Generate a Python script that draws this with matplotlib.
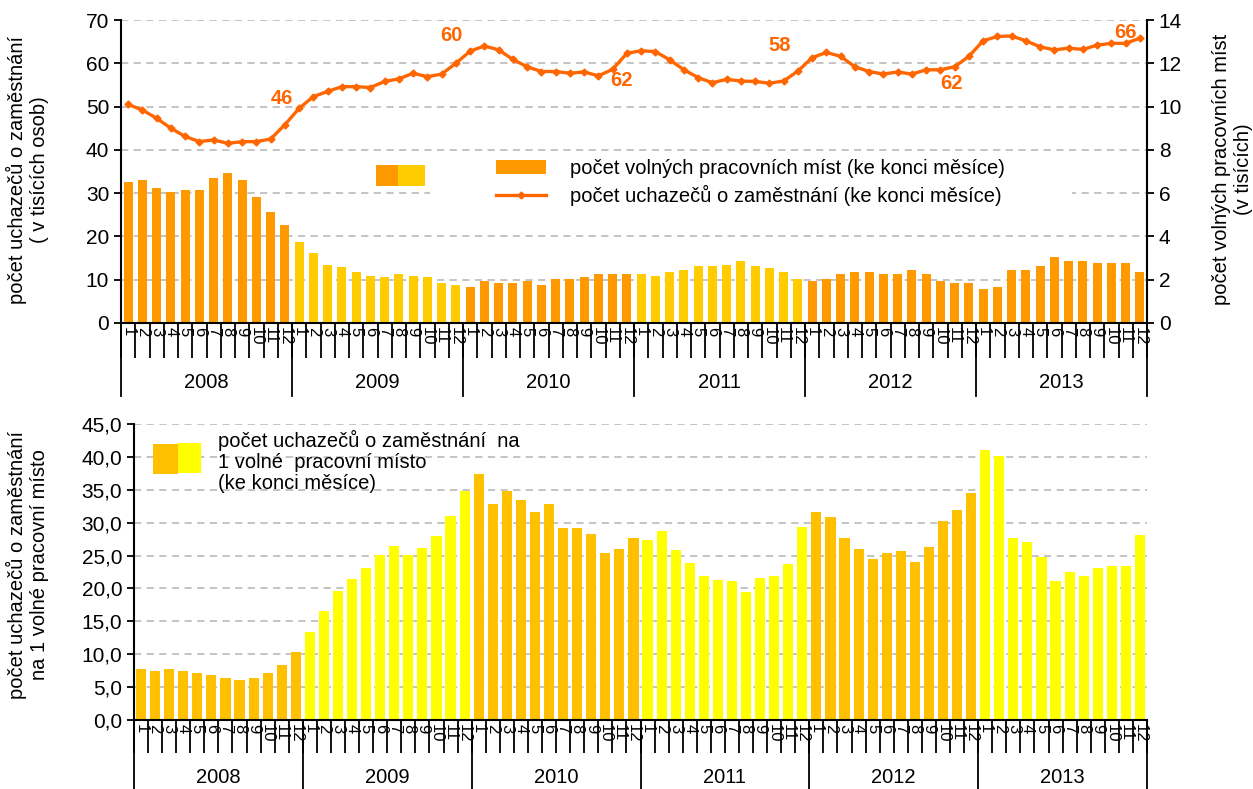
import matplotlib
matplotlib.use("Agg")
import matplotlib.pyplot as plt
from matplotlib.patches import Patch, Rectangle
from matplotlib.lines import Line2D
import matplotlib.transforms as mtransforms
from matplotlib.ticker import FuncFormatter

plt.rcParams['font.family'] = ['Liberation Sans', 'DejaVu Sans']

# ==== data ====
years = ["2008", "2009", "2010", "2011", "2012", "2013"]
months = [str(m) for m in range(1, 13)]

# počet uchazečů o zaměstnání (tis. osob), ke konci měsíce
uchazeci = [
    50.5, 49.2, 47.3, 45.0, 43.1, 41.9, 42.3, 41.5, 41.9, 41.9, 42.5, 45.8,
    49.6, 52.3, 53.5, 54.6, 54.6, 54.4, 55.8, 56.4, 57.7, 56.9, 57.5, 60.0,
    62.8, 64.0, 63.1, 60.9, 59.2, 58.1, 58.1, 57.7, 58.0, 57.1, 58.6, 62.3,
    62.9, 62.7, 60.8, 58.5, 56.7, 55.5, 56.3, 55.9, 55.8, 55.4, 55.9, 58.2,
    61.3, 62.5, 61.6, 59.2, 58.1, 57.5, 58.0, 57.5, 58.5, 58.5, 59.2, 61.6,
    65.2, 66.2, 66.3, 65.2, 63.8, 63.1, 63.5, 63.2, 64.2, 64.6, 64.6, 65.8,
]

# počet volných pracovních míst (tis.), ke konci měsíce
volna_mista = [
    6.51, 6.60, 6.25, 6.06, 6.15, 6.15, 6.68, 6.94, 6.60, 5.82, 5.14, 4.52,
    3.75, 3.25, 2.69, 2.57, 2.37, 2.18, 2.11, 2.28, 2.18, 2.11, 1.86, 1.77,
    1.68, 1.92, 1.83, 1.83, 1.92, 1.74, 2.02, 2.02, 2.11, 2.28, 2.28, 2.28,
    2.28, 2.18, 2.37, 2.46, 2.65, 2.65, 2.69, 2.88, 2.65, 2.55, 2.37, 2.02,
    1.92, 2.02, 2.28, 2.37, 2.37, 2.28, 2.28, 2.46, 2.28, 1.92, 1.83, 1.83,
    1.58, 1.68, 2.46, 2.46, 2.63, 3.06, 2.88, 2.88, 2.78, 2.78, 2.78, 2.37,
]

# počet uchazečů na 1 volné pracovní místo
na_misto = [
    7.75, 7.45, 7.75, 7.45, 7.15, 6.84, 6.39, 6.08, 6.39, 7.15, 8.36, 10.34,
    13.38, 16.52, 19.61, 21.39, 23.11, 25.04, 26.46, 25.04, 26.20, 27.93, 31.02, 34.77,
    37.4, 32.8, 34.8, 33.5, 31.6, 32.8, 29.2, 29.2, 28.3, 25.4, 26.0, 27.7,
    27.4, 28.7, 25.9, 23.9, 21.9, 21.3, 21.1, 19.4, 21.6, 21.9, 23.7, 29.3,
    31.6, 30.9, 27.7, 26.0, 24.5, 25.4, 25.7, 24.0, 26.3, 30.3, 31.9, 34.5,
    41.1, 40.2, 27.7, 27.1, 24.8, 21.1, 22.5, 21.9, 23.1, 23.4, 23.4, 28.2,
]

# popisky prosincových hodnot (horní graf)
dec_labels = ["46", "60", "62", "58", "62", "66"]
dec_offsets = [(-3, 26), (-4, 28), (-5, -27), (-18, 26), (-17, -27), (-14, 6)]

# ==== barvy ====
ORANGE = "#FF9900"
YELLOW_TOP = "#FFCC00"
GOLD = "#FFC000"
YELLOW = "#FFFF00"
LINE = "#FF6600"

n = len(uchazeci)
x = list(range(n))
top_colors = [YELLOW_TOP if (i // 12) in (1, 3) else ORANGE for i in range(n)]
bot_colors = [GOLD if (i // 12) % 2 == 0 else YELLOW for i in range(n)]

W, H = 1253, 789
fig = plt.figure(figsize=(W / 100, H / 100), dpi=100)


def rect(l, t, r, b):
    return [l / W, 1 - b / H, (r - l) / W, (b - t) / H]


def category_axis(ax, sep_len, year_sep, year_y):
    ax.set_xlim(-0.5, n - 0.5)
    ax.set_xticks(x)
    ax.set_xticklabels(months * len(years))
    ax.tick_params(axis='x', which='major', length=0, pad=3, labelsize=12)
    plt.setp(ax.get_xticklabels(), rotation=270, va='top', ha='center')
    ax.set_xticks([i - 0.5 for i in range(n + 1)], minor=True)
    ax.tick_params(axis='x', which='minor', length=sep_len, width=1.3,
                   direction='out', color='black')
    trans = mtransforms.blended_transform_factory(ax.transData, ax.transAxes)
    for k in range(len(years) + 1):
        xb = k * 12 - 0.5
        ax.plot([xb, xb], [0, year_sep], transform=trans, color='black',
                lw=1.3, clip_on=False)
    for k, yr in enumerate(years):
        ax.text(k * 12 + 5.5, year_y, yr, transform=trans, ha='center',
                va='center', fontsize=14.5)


# ---------- horní graf ----------
ax_bar = fig.add_axes(rect(121, 20, 1147, 323))
ax_bar.bar(x, volna_mista, width=0.63, color=top_colors, zorder=2)
ax_bar.set_ylim(0, 14)
ax_bar.set_yticks(range(0, 15, 2))
ax_bar.yaxis.tick_right()
ax_bar.grid(axis='y', color='#BFBFBF', linestyle=(0, (4, 3)), lw=1.3)
ax_bar.set_axisbelow(True)
for s in ['top', 'left']:
    ax_bar.spines[s].set_visible(False)
ax_bar.spines['right'].set_linewidth(1.5)
ax_bar.spines['bottom'].set_linewidth(1.5)
ax_bar.tick_params(axis='y', labelsize=15, length=5, width=1.3)
category_axis(ax_bar, 25, -0.24, -0.198)

ax_line = fig.add_axes(rect(121, 20, 1147, 323), sharex=ax_bar)
ax_line.patch.set_visible(False)
ax_line.plot(x, uchazeci, color=LINE, lw=2.4, marker='D', markersize=3.5, zorder=5)
ax_line.set_ylim(0, 70)
ax_line.set_yticks(range(0, 71, 10))
for s in ['top', 'right', 'bottom']:
    ax_line.spines[s].set_visible(False)
ax_line.spines['left'].set_linewidth(1.5)
ax_line.tick_params(axis='y', labelsize=15, length=5, width=1.3)
ax_line.tick_params(axis='x', which='both', bottom=False, labelbottom=False)

for k, (lab, off) in enumerate(zip(dec_labels, dec_offsets)):
    i = k * 12 + 11
    ax_line.annotate(lab, xy=(i, uchazeci[i]), xytext=off, textcoords='offset pixels',
                     ha='center', va='center', color=LINE, fontsize=14.5,
                     fontweight='bold')

# legenda
ax_line.add_patch(Rectangle((0.301, 0.323), 0.626, 0.231, transform=ax_line.transAxes,
                            facecolor='white', edgecolor='none', zorder=3))
ax_line.add_patch(Rectangle((0.2485, 0.452), 0.0214, 0.069, transform=ax_line.transAxes,
                            facecolor=ORANGE, edgecolor='none', zorder=4))
ax_line.add_patch(Rectangle((0.2699, 0.452), 0.0263, 0.069, transform=ax_line.transAxes,
                            facecolor=YELLOW_TOP, edgecolor='none', zorder=4))
handles = [Patch(facecolor=ORANGE, edgecolor='none'),
           Line2D([], [], color=LINE, lw=2.4, marker='D', markersize=3.5, markevery=[1])]
leg = ax_line.legend(handles, ["počet volných pracovních míst (ke konci měsíce)",
                               "počet uchazečů o zaměstnání (ke konci měsíce)"],
                     loc='upper left', bbox_to_anchor=(0.3655, 0.54), frameon=False,
                     fontsize=14.5, handlelength=2.5, handletextpad=1.15,
                     borderpad=0, borderaxespad=0, labelspacing=0.35)
leg.set_zorder(6)

fig.text(0.022, 0.785, "počet uchazečů o zaměstnání\n( v tisících osob)", rotation=90,
         ha='center', va='center', fontsize=14.5, multialignment='center')
fig.text(0.984, 0.785, "počet volných pracovních míst\n(v tisících)", rotation=90,
         ha='center', va='center', fontsize=14.5, multialignment='center')

# ---------- dolní graf ----------
ax2 = fig.add_axes(rect(134, 424, 1147, 720))
ax2.bar(x, na_misto, width=0.72, color=bot_colors, zorder=2)
ax2.set_ylim(0, 45)
ax2.set_yticks(range(0, 46, 5))
ax2.yaxis.set_major_formatter(FuncFormatter(lambda v, p: f"{v:.1f}".replace('.', ',')))
ax2.grid(axis='y', color='#BFBFBF', linestyle=(0, (4, 3)), lw=1.3)
ax2.set_axisbelow(True)
for s in ['top', 'right']:
    ax2.spines[s].set_visible(False)
ax2.spines['left'].set_linewidth(1.5)
ax2.spines['bottom'].set_linewidth(1.5)
ax2.tick_params(axis='y', labelsize=15, length=5, width=1.3)
category_axis(ax2, 24, -0.25, -0.193)

ax2.add_patch(Rectangle((0.0188, 0.831), 0.0247, 0.101, transform=ax2.transAxes,
                        facecolor=GOLD, edgecolor='none', zorder=4))
ax2.add_patch(Rectangle((0.0434, 0.834), 0.0227, 0.101, transform=ax2.transAxes,
                        facecolor=YELLOW, edgecolor='none', zorder=4))
ax2.text(0.083, 0.98, "počet uchazečů o zaměstnání  na\n1 volné  pracovní místo\n(ke konci měsíce)",
         transform=ax2.transAxes, ha='left', va='top', fontsize=14.5, linespacing=1.12)

fig.text(0.022, 0.284, "počet uchazečů o zaměstnání\nna 1 volné pracovní místo", rotation=90,
         ha='center', va='center', fontsize=14.5, multialignment='center')

fig.savefig("out.png", dpi=100)
